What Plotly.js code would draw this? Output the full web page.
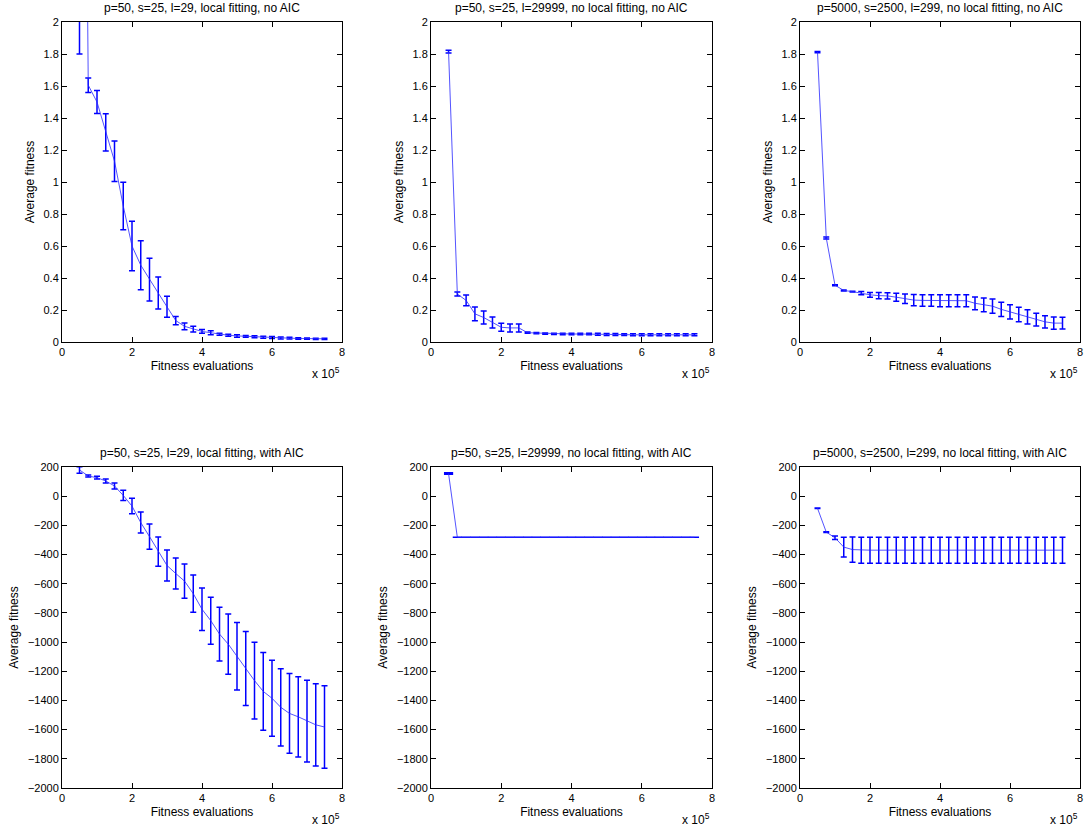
<!DOCTYPE html>
<html>
<head>
<meta charset="utf-8">
<script src="https://cdn.plot.ly/plotly-3.0.1.min.js"></script>
<style>html,body{margin:0;padding:0;background:#fff;}#chart{width:1089px;height:831px;}</style>
</head>
<body>
<div id="chart"></div>
<script>
// Fitness evaluations (x axis, shown in units of 10^5)
const evals = [50000, 75000, 100000, 125000, 150000, 175000, 200000, 225000, 250000, 275000,
  300000, 325000, 350000, 375000, 400000, 425000, 450000, 475000, 500000, 525000,
  550000, 575000, 600000, 625000, 650000, 675000, 700000, 725000, 750000];

const titles = [
  "p=50, s=25, l=29, local fitting, no AIC",
  "p=50, s=25, l=29999, no local fitting, no AIC",
  "p=5000, s=2500, l=299, no local fitting, no AIC",
  "p=50, s=25, l=29, local fitting, with AIC",
  "p=50, s=25, l=29999, no local fitting, with AIC",
  "p=5000, s=2500, l=299, no local fitting, with AIC"
];

// Panel 1
const mean1 = [8.0, 1.605, 1.50, 1.31, 1.13, 0.85, 0.60, 0.48, 0.39, 0.306, 0.22, 0.134, 0.098, 0.080, 0.066,
  0.058, 0.048, 0.042, 0.038, 0.035, 0.033, 0.030, 0.028, 0.025, 0.024, 0.022, 0.021, 0.020, 0.020];
const err1 = [6.2, 0.045, 0.072, 0.117, 0.127, 0.148, 0.155, 0.153, 0.133, 0.10, 0.066, 0.026, 0.021, 0.018, 0.012,
  0.013, 0.006, 0.006, 0.008, 0.006, 0.006, 0.006, 0.006, 0.006, 0.006, 0.005, 0.004, 0.004, 0.004];
// Panel 2
const mean2 = [1.815, 0.30, 0.26, 0.176, 0.153, 0.122, 0.092, 0.088, 0.088, 0.058, 0.056, 0.052, 0.051, 0.050, 0.050,
  0.050, 0.050, 0.048, 0.047, 0.047, 0.046, 0.045, 0.045, 0.045, 0.045, 0.045, 0.045, 0.045, 0.045];
const err2 = [0.009, 0.012, 0.034, 0.043, 0.041, 0.034, 0.025, 0.025, 0.025, 0.004, 0.004, 0.004, 0.004, 0.004, 0.004,
  0.004, 0.004, 0.006, 0.006, 0.006, 0.005, 0.006, 0.006, 0.006, 0.006, 0.006, 0.006, 0.006, 0.006];
// Panel 3
const mean3 = [1.812, 0.650, 0.355, 0.322, 0.315, 0.305, 0.295, 0.290, 0.288, 0.280, 0.270, 0.262, 0.260, 0.260, 0.258,
  0.258, 0.258, 0.258, 0.242, 0.232, 0.224, 0.204, 0.188, 0.172, 0.157, 0.140, 0.126, 0.118, 0.118];
const err3 = [0.004, 0.006, 0.003, 0.003, 0.002, 0.010, 0.015, 0.020, 0.020, 0.025, 0.030, 0.035, 0.036, 0.036, 0.038,
  0.038, 0.038, 0.038, 0.040, 0.043, 0.045, 0.045, 0.045, 0.045, 0.045, 0.040, 0.038, 0.038, 0.037];
// Panel 4
const mean4 = [180, 138, 127, 104, 70, 5, -68, -181, -277, -380, -475, -530, -582, -668, -775,
  -853, -945, -1014, -1097, -1181, -1264, -1338, -1385, -1447, -1489, -1512, -1541, -1567, -1582];
const err4 = [22, 7, 9, 14, 20, 35, 53, 72, 86, 100, 106, 106, 117, 127, 145,
  161, 184, 206, 231, 254, 263, 266, 260, 265, 273, 275, 280, 282, 282];
// Panel 5
const mean5 = [155, -282, -282, -282, -282, -282, -282, -282, -282, -282, -282, -282, -282, -282, -282,
  -282, -282, -282, -282, -282, -282, -282, -282, -282, -282, -282, -282, -282, -282];
const err5 = [5, 0, 0, 0, 0, 0, 0, 0, 0, 0, 0, 0, 0, 0, 0,
  0, 0, 0, 0, 0, 0, 0, 0, 0, 0, 0, 0, 0, 0];
// Panel 6
const mean6 = [-83, -246, -285, -349, -366, -370, -370, -370, -370, -370, -370, -370, -370, -370, -370,
  -370, -370, -370, -370, -370, -370, -370, -370, -370, -370, -370, -370, -370, -370];
const err6 = [2, 3, 12, 68, 86, 89, 89, 89, 89, 89, 89, 89, 89, 89, 89,
  89, 89, 89, 89, 89, 89, 89, 89, 89, 89, 89, 89, 89, 89];

const xTickVals = [0, 200000, 400000, 600000, 800000];
const xTickText = ["0", "2", "4", "6", "8"];

const means = [mean1, mean2, mean3, mean4, mean5, mean6];
const errs = [err1, err2, err3, err4, err5, err6];

const W = 1089, H = 831;
const colPx = [[62, 342], [431, 712], [800, 1080]];
const rowPx = [[22, 342], [467, 788]];
const titleY = [8, 453];
const capW = [3, 3, 3, 3, 4.6, 3];
const FONT = "Liberation Sans, Arial, Helvetica, sans-serif";

const data = [];
const layout = {
  width: W, height: H,
  margin: {l: 0, r: 0, t: 0, b: 0},
  paper_bgcolor: "#fff", plot_bgcolor: "#fff",
  showlegend: false,
  font: {family: FONT, size: 11, color: "#000"},
  annotations: []
};

for (let i = 0; i < 6; i++) {
  const r = Math.floor(i / 3), c = i % 3;
  const sfx = i === 0 ? "" : String(i + 1);
  data.push({
    type: "scatter", mode: "lines",
    x: evals, y: means[i],
    xaxis: "x" + sfx, yaxis: "y" + sfx,
    line: {color: "rgba(40,40,255,0.8)", width: 1},
    error_y: {type: "data", array: errs[i], visible: true, color: "#0000ff", thickness: 1.5, width: capW[i]},
    hoverinfo: "skip"
  });
  const xd = [colPx[c][0] / W, colPx[c][1] / W];
  const yd = [1 - rowPx[r][1] / H, 1 - rowPx[r][0] / H];
  const common = {
    showline: true, linecolor: "#000", linewidth: 1, mirror: "ticks",
    ticks: "inside", ticklen: 5, tickcolor: "#000", tickwidth: 1,
    showgrid: false, zeroline: false, fixedrange: true,
    tickfont: {family: FONT, size: 11, color: "#000"}
  };
  layout["xaxis" + sfx] = Object.assign({}, common, {
    domain: xd, anchor: "y" + sfx, range: [0, 800000],
    tickmode: "array", tickvals: xTickVals, ticktext: xTickText,
    title: {text: "Fitness evaluations", font: {family: FONT, size: 12}, standoff: 4}
  });
  layout["yaxis" + sfx] = Object.assign({}, common, {
    domain: yd, anchor: "x" + sfx,
    range: r === 0 ? [0, 2] : [-2000, 200],
    dtick: r === 0 ? 0.2 : 200, tick0: 0,
    title: {text: "Average fitness", font: {family: FONT, size: 12}, standoff: 6}
  });
  layout.annotations.push({
    xref: "paper", yref: "paper",
    x: (xd[0] + xd[1]) / 2, y: 1 - titleY[r] / H,
    xanchor: "center", yanchor: "middle", showarrow: false,
    text: titles[i], font: {family: FONT, size: 12, color: "#000"}
  });
  layout.annotations.push({
    xref: "paper", yref: "paper",
    x: colPx[c][1] / W, y: 1 - (rowPx[r][1] + 31) / H,
    xanchor: "right", yanchor: "middle", showarrow: false,
    text: "x 10<sup>5</sup>", font: {family: FONT, size: 12, color: "#000"}
  });
}

Plotly.newPlot("chart", data, layout, {staticPlot: true, displayModeBar: false});
</script>
</body>
</html>
